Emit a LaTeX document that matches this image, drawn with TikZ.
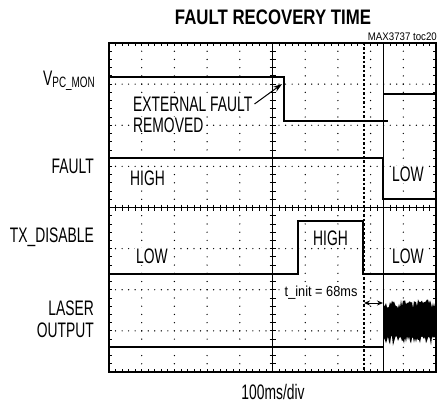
\documentclass[tikz,border=0pt]{standalone}
\usepackage{fontspec}
\setmainfont{Liberation Sans}[FakeStretch=0.66]
\newfontfamily\titlefont{Liberation Sans}[FakeStretch=0.8]
\newfontfamily\smallfont{Liberation Sans}[FakeStretch=0.88]
\usetikzlibrary{arrows.meta}
\tikzset{
  trace/.style={line width=1.8pt,draw=black},
  frameline/.style={line width=2pt,draw=black},
  axisline/.style={line width=0.8pt,draw=black},
  griddot/.style={fill=black},
  marker/.style={line width=1.2pt,dash pattern=on 2.5pt off 2pt},
  cursor/.style={line width=0.9pt},
  siglabel/.style={anchor=east,align=right,inner sep=0pt,font=\fontsize{21}{22}\selectfont},
  inlabel/.style={anchor=west,align=left,inner sep=1pt,fill=white,font=\fontsize{21}{24}\selectfont},
  pointer/.style={line width=1pt,-{Stealth[length=9pt,width=6pt]}}
}
\begin{document}
\begin{tikzpicture}[x=1pt,y=-1pt]
  \useasboundingbox (0,0) rectangle (442,404);
  % screen geometry
  \def\xL{109}\def\xR{436}\def\yT{43}\def\yB{372}
  \def\dx{32.7}\def\dy{41.125}
  % dotted grid
  \foreach \i in {1,2,3,4,6,7,8,9}
    \foreach \j in {1,...,39}
      \fill[griddot] ({\xL+\i*\dx},{\yT+\j*\dy/5}) circle (0.7);
  \foreach \j in {1,2,3,5,6,7}
    \foreach \i in {1,...,49}
      \fill[griddot] ({\xL+\i*\dx/5},{\yT+\j*\dy}) circle (0.7);
  % centre axes with minor ticks
  \draw[axisline] ({\xL+5*\dx},\yT) -- ({\xL+5*\dx},\yB);
  \draw[axisline] (\xL,{\yT+4*\dy}) -- (\xR,{\yT+4*\dy});
  \foreach \j in {1,...,39}
    \draw[axisline] ({\xL+5*\dx-3},{\yT+\j*\dy/5}) -- ++(6,0);
  \foreach \i in {1,...,49}
    \draw[axisline] ({\xL+\i*\dx/5},{\yT+4*\dy-3}) -- ++(0,6);
  % border ticks
  \foreach \i in {1,...,49} {
    \draw[axisline] ({\xL+\i*\dx/5},\yT) -- ++(0,3);
    \draw[axisline] ({\xL+\i*\dx/5},\yB) -- ++(0,-3);
  }
  \foreach \j in {1,...,39} {
    \draw[axisline] (\xL,{\yT+\j*\dy/5}) -- ++(3,0);
    \draw[axisline] (\xR,{\yT+\j*\dy/5}) -- ++(-3,0);
  }
  \draw[frameline] (\xL,\yT) rectangle (\xR,\yB);
  % cursors
  \coordinate (c1top) at (364,\yT);
  \coordinate (c1bot) at (364,\yB);
  \coordinate (c2top) at (383,\yT);
  \coordinate (c2bot) at (383,\yB);
  \draw[marker] (c1top) -- (c1bot);
  \draw[cursor] (c2top) -- (c2bot);
  % traces
  \draw[trace] (\xL,77) -- (284,77) -- (284,121) -- (388,121);
  \draw[trace] (384,94) -- (\xR,94);
  \draw[trace] (\xL,158) -- (383,158) -- (383,199) -- (\xR,199);
  \draw[trace] (\xL,274) -- (298,274) -- (298,221) -- (363,221) -- (363,274) -- (\xR,274);
  \draw[trace] (\xL,347) -- (383,347);
  \pgfmathsetseed{37}
  \fill (384,306) foreach \x in {385,...,434} { -- (\x,{299+9*rnd^2+3*rnd}) }
    -- (435,303) -- (435,338)
    foreach \x in {434,...,385} { -- (\x,{335+9*rnd^2+2*rnd}) } -- (384,338) -- cycle;
  % labels
  \node[font=\titlefont\bfseries\fontsize{21}{24}\selectfont] (title) at (273,17) {FAULT RECOVERY TIME};
  \node[anchor=east,inner sep=0pt,font=\smallfont\fontsize{11}{12}\selectfont] (toc) at (437,37) {MAX3737 toc20};
  \node[siglabel] (vpc) at (95,81) {V\raisebox{-1.5pt}{\fontsize{15}{16}\selectfont PC\_MON}};
  \node[siglabel] (fault) at (94,166) {FAULT};
  \node[siglabel] (txdis) at (94,237) {TX\_DISABLE};
  \node[siglabel] (laser) at (94,319) {LASER\\OUTPUT};
  \node[inlabel] (extfault) at (132,104) {EXTERNAL FAULT};
  \node[inlabel] (removed) at (132,125) {REMOVED};
  \node[inlabel] (faulthigh) at (129,178) {HIGH};
  \node[inlabel] (faultlow) at (391,174.5) {LOW};
  \node[inlabel] (txhigh) at (312,238) {HIGH};
  \node[inlabel] (txlowa) at (135,256.5) {LOW};
  \node[inlabel] (txlowb) at (391,256.5) {LOW};
  \node[inlabel,font=\smallfont\fontsize{14.5}{16}\selectfont,inner sep=0.5pt] (tinit) at (284,293) {t\_init = 68ms};
  \node[font=\fontsize{21}{22}\selectfont] (timebase) at (273,392) {100ms/div};
  % pointers
  \coordinate (fallpt) at (282,84);
  \draw[pointer] ([xshift=1pt]extfault.east) -- (fallpt);
  \coordinate (ta) at (364,303);
  \coordinate (tb) at (383,303);
  \draw[line width=1pt,{Stealth[length=6pt,width=5pt]}-{Stealth[length=6pt,width=5pt]}] (ta) -- (tb);
\end{tikzpicture}
\end{document}
